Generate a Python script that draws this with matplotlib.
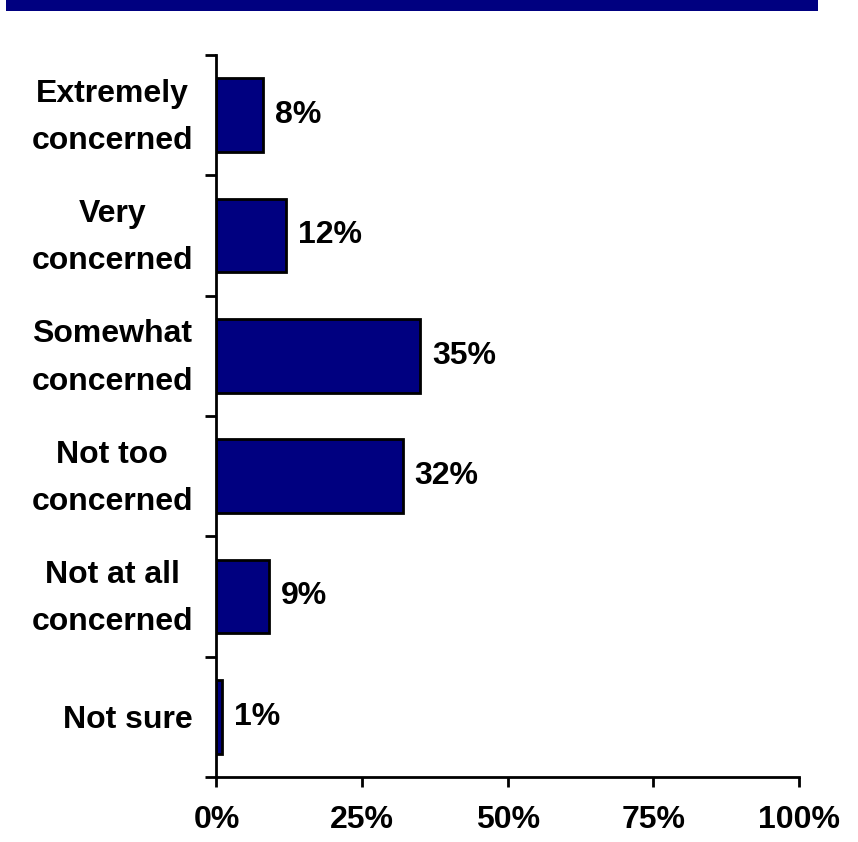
import matplotlib
matplotlib.use("Agg")
import matplotlib.pyplot as plt
from matplotlib.patches import Rectangle
from matplotlib.transforms import ScaledTranslation
import numpy as np

categories = ["Extremely\nconcerned", "Very\nconcerned", "Somewhat\nconcerned",
              "Not too\nconcerned", "Not at all\nconcerned", "Not sure"]
values = [8, 12, 35, 32, 9, 1]
xticks = [0, 25, 50, 75, 100]
xticklabels = ["0%", "25%", "50%", "75%", "100%"]

plt.rcParams['font.family'] = ['Liberation Sans', 'DejaVu Sans']
plt.rcParams['font.weight'] = 'bold'

fig = plt.figure(figsize=(8.58, 8.42), dpi=100)
ax = fig.add_axes([0.2523, 0.0772, 0.9312 - 0.2523, 0.9347 - 0.0772])

fig.patches.append(Rectangle((6 / 858, 1 - 11 / 842), (818 - 6) / 858, 11 / 842,
                             transform=fig.transFigure, facecolor="#000080",
                             edgecolor="none"))

pos = np.arange(len(categories))
ax.barh(pos, values, height=0.61, color="#000080", edgecolor="black", linewidth=2)
for p, v in zip(pos, values):
    ax.text(v + 2.0, p, f"{v}%", va="center", ha="left",
            fontsize=23, fontweight="bold")

ax.set_xlim(0, 100)
ax.set_ylim(len(categories) - 0.5, -0.5)
ax.set_xticks(xticks)
ax.set_xticklabels(xticklabels, fontsize=23, fontweight="bold")
ax.set_yticks(pos)
ax.set_yticklabels(categories, fontsize=23, fontweight="bold",
                   multialignment="center", linespacing=1.75)
ax.set_yticks(np.arange(-0.5, len(categories), 1), minor=True)
ax.tick_params(axis="y", which="major", length=0, pad=17)
ax.tick_params(axis="y", which="minor", length=8, width=2, direction="out")
ax.tick_params(axis="x", which="major", length=7, width=2, direction="out", pad=13)

for lbl in ax.get_yticklabels():
    if "\n" in lbl.get_text():
        lbl.set_transform(lbl.get_transform() +
                          ScaledTranslation(0, 10 / 100, fig.dpi_scale_trans))

for s in ["top", "right"]:
    ax.spines[s].set_visible(False)
for s in ["left", "bottom"]:
    ax.spines[s].set_linewidth(2)
    ax.spines[s].set_color("black")

fig.savefig("out.png", dpi=100)
